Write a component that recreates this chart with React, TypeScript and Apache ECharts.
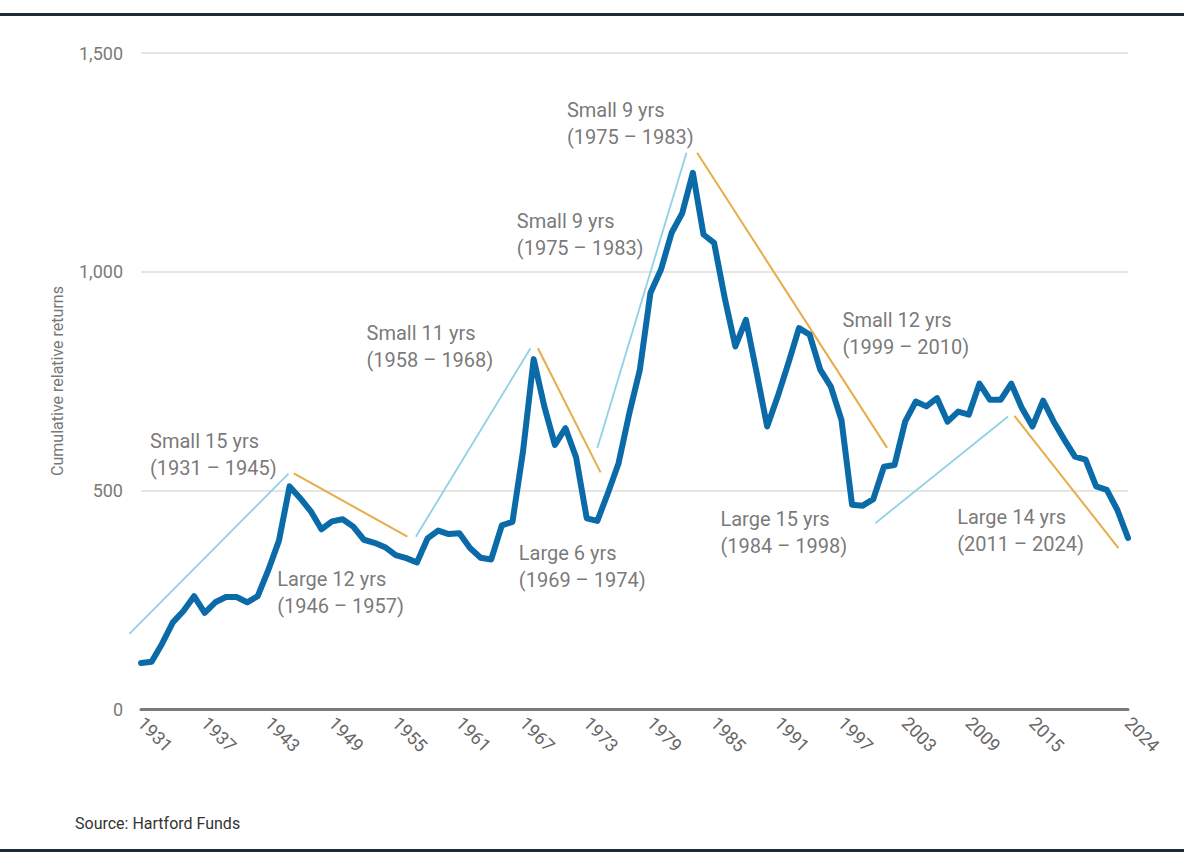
import React, { useEffect, useRef } from "react";
import * as echarts from "echarts";

// Cumulative relative returns, small caps vs. large caps, one value per year
const START_YEAR = 1931;
const relativeReturns = [
  105, 108, 150, 198, 224, 258, 220, 244, 256, 256, // 1931-1940
  244, 258, 318, 385, 509, 482, 452, 411, 429, 434, // 1941-1950
  417, 387, 380, 370, 352, 345, 335, 390, 408, 400, // 1951-1960
  402, 368, 346, 342, 420, 428, 590, 800, 692, 604, // 1961-1970
  642, 575, 436, 430, 494, 562, 675, 775, 951, 1005, // 1971-1980
  1089, 1134, 1226, 1085, 1066, 940, 829, 890, 770, 646, // 1981-1990
  715, 791, 871, 856, 776, 737, 661, 467, 465, 480, // 1991-2000
  554, 558, 657, 703, 692, 711, 657, 680, 673, 744, // 2001-2010
  707, 707, 744, 688, 646, 705, 657, 616, 577, 570, // 2011-2020
  509, 501, 455, 391, // 2021-2024
];

const xTickYears = [1931, 1937, 1943, 1949, 1955, 1961, 1967, 1973, 1979, 1985, 1991, 1997, 2003, 2009, 2015, 2024];
const yMin = 0;
const yMax = 1500;
const yStep = 500;

// Trend segments [year, value] for periods of small-cap leadership
const smallCapTrends = [
  [[1929.9, 172], [1944.9, 538]],
  [[1956.9, 394], [1967.7, 825]],
  [[1974.0, 597], [1982.4, 1272]],
  [[2000.2, 425], [2012.7, 669]],
];

// Trend segments [year, value] for periods of large-cap leadership
const largeCapTrends = [
  [[1945.4, 539], [1956.1, 394]],
  [[1968.4, 825], [1974.3, 541]],
  [[1983.4, 1272], [2001.3, 597]],
  [[2013.3, 670], [2023.1, 368]],
];

// Period annotations anchored at their top-left corner
const periodLabels = [
  { year: 1931.85, value: 643, title: "Small 15 yrs", span: "(1931 – 1945)" },
  { year: 1943.84, value: 327, title: "Large 12 yrs", span: "(1946 – 1957)" },
  { year: 1952.25, value: 890, title: "Small 11 yrs", span: "(1958 – 1968)" },
  { year: 1971.13, value: 1400, title: "Small 9 yrs", span: "(1975 – 1983)" },
  { year: 1966.41, value: 1146, title: "Small 9 yrs", span: "(1975 – 1983)" },
  { year: 1966.6, value: 387, title: "Large 6 yrs", span: "(1969 – 1974)" },
  { year: 1997.1, value: 920, title: "Small 12 yrs", span: "(1999 – 2010)" },
  { year: 1985.6, value: 465, title: "Large 15 yrs", span: "(1984 – 1998)" },
  { year: 2007.9, value: 471, title: "Large 14 yrs", span: "(2011 – 2024)" },
];

const MAIN_BLUE = "#0b6ba9";
const SMALL_COLOR = "#92d0e6";
const LARGE_COLOR = "#e6ad48";
const FONT = "Roboto, 'Noto Sans', sans-serif";

export default function App() {
  const ref = useRef<HTMLDivElement>(null);

  useEffect(() => {
    if (!ref.current) return;
    const chart = echarts.init(ref.current, null, { renderer: "svg" });

    const lineData = relativeReturns.map((v, i) => [START_YEAR + i, v]);

    chart.setOption({
      animation: false,
      backgroundColor: "#ffffff",
      textStyle: { fontFamily: FONT },
      grid: { left: 141, right: 56, top: 53, bottom: 155 },
      xAxis: {
        type: "value",
        min: START_YEAR,
        max: START_YEAR + relativeReturns.length - 1,
        axisLine: { show: true, lineStyle: { color: "#7a7a7a", width: 3 } },
        axisTick: { show: false },
        splitLine: { show: false },
        axisLabel: {
          customValues: xTickYears,
          rotate: -45,
          fontSize: 18,
          color: "#666",
          margin: 11,
          fontFamily: FONT,
          formatter: (v: number) => String(v),
        },
      },
      yAxis: {
        type: "value",
        min: yMin,
        max: yMax,
        interval: yStep,
        name: "Cumulative relative returns",
        nameLocation: "middle",
        nameGap: 76,
        nameTextStyle: { fontSize: 16, color: "#777", fontFamily: FONT },
        axisLine: { show: false },
        axisTick: { show: false },
        axisLabel: {
          fontSize: 18,
          color: "#7a7a7a",
          margin: 18,
          fontFamily: FONT,
          formatter: (v: number) => v.toLocaleString("en-US"),
        },
        splitLine: { lineStyle: { color: "#dcdcdc", width: 1.5 } },
      },
      series: [
        {
          type: "line",
          data: lineData,
          symbol: "none",
          z: 3,
          lineStyle: { color: MAIN_BLUE, width: 6, join: "round", cap: "round" },
        },
        {
          type: "scatter",
          data: periodLabels.map((p) => ({
            value: [p.year, p.value],
            name: p.title + "\n" + p.span,
          })),
          symbolSize: 0,
          silent: true,
          clip: false,
          z: 4,
          label: {
            show: true,
            position: [0, 0],
            align: "left",
            verticalAlign: "top",
            formatter: (params: any) => params.name,
            fontSize: 20,
            lineHeight: 27,
            color: "#555",
            fontFamily: FONT,
          },
        },
      ],
    });

    // Trend segments may start before the first year, so they are placed
    // through the grid's own coordinate conversion rather than clipped series.
    const toPx = (p: number[]) => chart.convertToPixel({ gridIndex: 0 }, p) as number[];
    const trendLines = (segments: number[][][], color: string, width: number) =>
      segments.map((seg) => {
        const a = toPx(seg[0]);
        const b = toPx(seg[1]);
        return {
          type: "line",
          z: 2,
          silent: true,
          shape: { x1: a[0], y1: a[1], x2: b[0], y2: b[1] },
          style: { stroke: color, lineWidth: width },
        };
      });

    chart.setOption({
      graphic: [
        ...trendLines(smallCapTrends, SMALL_COLOR, 1.8),
        ...trendLines(largeCapTrends, LARGE_COLOR, 2),
        { type: "rect", left: 0, top: 13, shape: { width: 1184, height: 3 }, style: { fill: "#1d2b38" } },
        { type: "rect", left: 0, top: 849, shape: { width: 1184, height: 3 }, style: { fill: "#1d2b38" } },
        {
          type: "text",
          left: 75,
          top: 815,
          style: { text: "Source: Hartford Funds", fontSize: 16, fill: "#333", fontFamily: FONT },
        },
      ],
    });

    return () => chart.dispose();
  }, []);

  return (
    <div
      ref={ref}
      style={{ position: "absolute", left: 0, top: 0, width: 1184, height: 864, background: "#fff" }}
    />
  );
}
